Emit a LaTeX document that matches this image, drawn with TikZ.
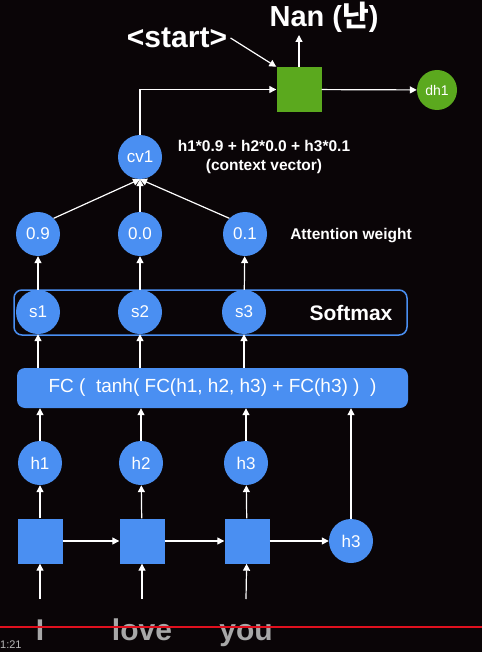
\documentclass[tikz,border=0pt]{standalone}
\usepackage{fontspec}
\setmainfont{Liberation Sans}
\newfontfamily\kr{Noto Sans CJK KR}
\usetikzlibrary{arrows.meta}
\definecolor{bg}{HTML}{0A0507}
\definecolor{kblue}{HTML}{4A8FF2}
\definecolor{kgreen}{HTML}{5BA91E}
\definecolor{wgray}{HTML}{A8A8A8}
\definecolor{lred}{HTML}{E0101E}
\tikzset{
  circ/.style={circle, fill=kblue, minimum size=44pt, inner sep=0pt, text=white, font=\fontsize{17}{19}\selectfont},
  cell/.style={rectangle, fill=kblue, minimum size=45pt, inner sep=0pt},
  arr/.style={draw=white, line width=1.2pt, -{Triangle[width=7pt,length=7pt]}},
  lbl/.style={text=white, font=\bfseries\fontsize{15.5}{19}\selectfont, align=center},
  word/.style={text=wgray, font=\bfseries\fontsize{30}{32}\selectfont, anchor=base}
}
\begin{document}
\begin{tikzpicture}[x=1pt,y=-1pt]
\fill[bg] (0,0) rectangle (482,652);
\useasboundingbox (0,0) rectangle (482,652);
% encoder cells
\node[cell] (e1) at (40,541) {};
\node[cell] (e2) at (142,541) {};
\node[cell] (e3) at (247,541) {};
\node[circ] (hl) at (351,541) {h3};
% hidden states
\node[circ] (h1) at (40,463) {h1};
\node[circ] (h2) at (141,463) {h2};
\node[circ] (h3) at (246,463) {h3};
% words
\node[word] (w1) at (40,640) {I};
\node[word] (w2) at (142,640) {love};
\node[word] (w3) at (246,640) {you};
\coordinate (i1) at (40,599);
\coordinate (i2) at (142,599);
\coordinate (i3) at (246,599);
% FC box
\node[rectangle, rounded corners=8pt, fill=kblue, minimum width=391pt, minimum height=40pt, inner sep=0pt, text=white, font=\fontsize{19}{21}\selectfont] (fc) at (212.5,388) {FC (\ \ tanh( FC(h1, h2, h3) + FC(h3) )\ \ )};
% softmax box
\node[rectangle, rounded corners=8pt, draw=kblue, line width=1.5pt, minimum width=393pt, minimum height=45pt, inner sep=0pt] (sm) at (210.5,312.5) {};
\node[circ] (s1) at (38,312) {s1};
\node[circ] (s2) at (140,312) {s2};
\node[circ] (s3) at (244,312) {s3};
\node[text=white, font=\bfseries\fontsize{21}{23}\selectfont] (smt) at (351,313) {Softmax};
% weights
\node[circ] (a1) at (38,234) {0.9};
\node[circ] (a2) at (140,234) {0.0};
\node[circ] (a3) at (245,234) {0.1};
\node[lbl] (awt) at (351,236) {Attention weight};
% context vector
\node[circ] (cv) at (140,157) {cv1};
\node[lbl] (cvt) at (264,157) {h1*0.9 + h2*0.0 + h3*0.1\\(context vector)};
% decoder
\node[rectangle, fill=kgreen, minimum size=45pt, inner sep=0pt] (d) at (299,89.5) {};
\node[circle, fill=kgreen, minimum size=40pt, inner sep=0pt, text=white, font=\fontsize{14}{16}\selectfont] (dh) at (437,90) {dh1};
\node[text=white, font=\bfseries\fontsize{29}{31}\selectfont] (nan) at (324,17) {Nan ({\kr 난})};
\node[text=white, font=\bfseries\fontsize{30}{32}\selectfont] (st) at (177,38) {<start>};
\coordinate (top) at (299,35);
% arrows
\draw[arr] (i1) -- (e1);
\draw[arr] (i2) -- (e2);
\draw[arr] (i3) -- (e3);
\draw[arr] (e1) -- (e2);
\draw[arr] (e2) -- (e3);
\draw[arr] (e3) -- (hl);
\draw[arr] (e1) -- (h1);
\draw[arr] (e2) -- (h2);
\draw[arr] (e3) -- (h3);
\draw[arr] (h1) -- (h1 |- fc.south);
\draw[arr] (h2) -- (h2 |- fc.south);
\draw[arr] (h3) -- (h3 |- fc.south);
\draw[arr] (hl) -- (hl |- fc.south);
\draw[arr] (s1 |- fc.north) -- (s1);
\draw[arr] (s2 |- fc.north) -- (s2);
\draw[arr] (s3 |- fc.north) -- (s3);
\draw[arr] (s1) -- (a1);
\draw[arr] (s2) -- (a2);
\draw[arr] (s3) -- (a3);
\draw[arr] (a1.north east) -- (cv.south);
\draw[arr] (a2) -- (cv.south);
\draw[arr] (a3.north west) -- (cv.south);
\draw[arr] (cv.north) -- (cv.north |- d.west) -- (d.west);
\draw[arr] (st.east) -- (d.north west);
\draw[arr] (d) -- (top);
\draw[arr] (d) -- (dh);
% video bar
\draw[lred, line width=2.5pt] (0,627) -- (482,627);
\node[anchor=west, inner sep=0pt, text=wgray!80!white, font=\fontsize{11}{12}\selectfont] (time) at (0,645) {1:21};
\end{tikzpicture}
\end{document}
